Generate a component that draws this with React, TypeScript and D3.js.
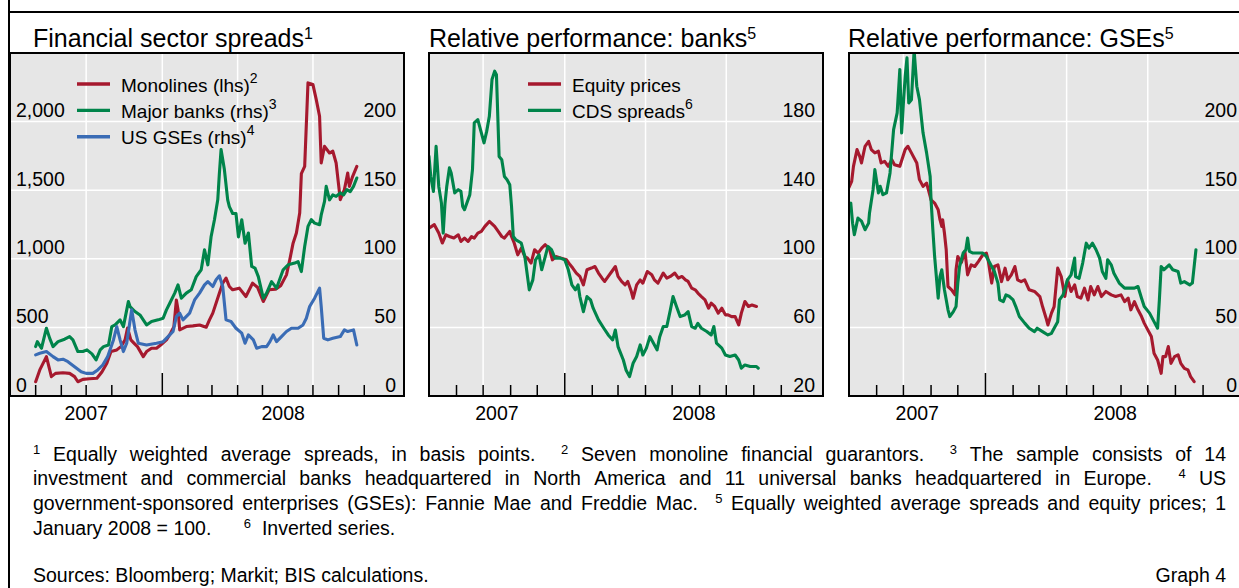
import React, { useMemo } from 'react';
import * as d3 from 'd3';

type Pt = [string, number];

// ---- Financial sector spreads (basis points) ----
const monolines: Pt[] = [
  ['2007-08-01', 104], ['2007-08-06', 190], ['2007-08-14', 287], ['2007-08-20', 141], ['2007-08-25', 165],
  ['2007-09-03', 170], ['2007-09-11', 165], ['2007-09-17', 141], ['2007-09-21', 104], ['2007-09-27', 121],
  ['2007-10-05', 126], ['2007-10-14', 129], ['2007-10-20', 175], ['2007-10-26', 238], ['2007-10-31', 324],
  ['2007-11-07', 336], ['2007-11-12', 360], ['2007-11-17', 409], ['2007-11-20', 496], ['2007-11-24', 409],
  ['2007-11-28', 384], ['2007-12-02', 360], ['2007-12-09', 287], ['2007-12-13', 324], ['2007-12-19', 348],
  ['2007-12-25', 348], ['2007-12-30', 372], ['2008-01-06', 409], ['2008-01-11', 457], ['2008-01-15', 506],
  ['2008-01-18', 700], ['2008-01-20', 628], ['2008-01-22', 482], ['2008-01-30', 506], ['2008-02-07', 511],
  ['2008-02-15', 518], ['2008-02-23', 501], ['2008-02-27', 555], ['2008-03-02', 604], ['2008-03-10', 750],
  ['2008-03-14', 822], ['2008-03-18', 859], ['2008-03-22', 798], ['2008-03-26', 774], ['2008-04-03', 786],
  ['2008-04-11', 725], ['2008-04-19', 822], ['2008-04-25', 793], ['2008-05-02', 689], ['2008-05-09', 774],
  ['2008-05-17', 779], ['2008-05-23', 803], ['2008-05-30', 883], ['2008-06-03', 993], ['2008-06-07', 1114],
  ['2008-06-11', 1188], ['2008-06-15', 1333], ['2008-06-17', 1620], ['2008-06-21', 1674], ['2008-06-25', 2282],
  ['2008-07-01', 2270], ['2008-07-05', 2160], ['2008-07-09', 2039], ['2008-07-11', 1698], ['2008-07-15', 1820],
  ['2008-07-21', 1771], ['2008-07-25', 1784], ['2008-07-29', 1698], ['2008-08-03', 1431], ['2008-08-08', 1504],
  ['2008-08-12', 1625], ['2008-08-14', 1528], ['2008-08-18', 1601], ['2008-08-23', 1674],
];

const majorBanks: Pt[] = [
  ['2007-08-01', 36], ['2007-08-03', 39.6], ['2007-08-08', 34.8], ['2007-08-14', 49.4], ['2007-08-18', 42],
  ['2007-08-22', 36], ['2007-08-28', 39.6], ['2007-09-05', 41.4], ['2007-09-11', 43.3], ['2007-09-15', 40.9],
  ['2007-09-21', 32.4], ['2007-09-27', 32.4], ['2007-10-02', 33.6], ['2007-10-08', 30.7], ['2007-10-13', 26.3],
  ['2007-10-18', 33.6], ['2007-10-22', 36], ['2007-10-28', 37.2], ['2007-11-01', 50.6], ['2007-11-05', 51.8],
  ['2007-11-11', 55.5], ['2007-11-15', 50.6], ['2007-11-21', 68.8], ['2007-11-23', 65.2], ['2007-11-29', 61.6],
  ['2007-12-05', 59.1], ['2007-12-13', 51.8], ['2007-12-19', 54.3], ['2007-12-27', 55.5], ['2008-01-02', 56.7],
  ['2008-01-06', 62.8], ['2008-01-10', 67.6], ['2008-01-16', 75], ['2008-01-20', 81], ['2008-01-24', 71.3],
  ['2008-01-30', 75], ['2008-02-05', 77.4], ['2008-02-11', 87], ['2008-02-17', 92], ['2008-02-21', 106.6],
  ['2008-02-25', 95.6], ['2008-02-29', 116.3], ['2008-03-04', 128.5], ['2008-03-08', 143], ['2008-03-10', 162.6],
  ['2008-03-12', 179.6], ['2008-03-16', 165], ['2008-03-20', 143], ['2008-03-22', 138], ['2008-03-26', 133],
  ['2008-03-30', 133], ['2008-04-02', 116], ['2008-04-06', 128.5], ['2008-04-10', 111.4], ['2008-04-14', 118.8],
  ['2008-04-18', 94.4], ['2008-04-22', 93.2], ['2008-04-26', 87], ['2008-05-02', 71.3], ['2008-05-06', 75],
  ['2008-05-12', 83.4], ['2008-05-18', 78.6], ['2008-05-26', 92], ['2008-06-01', 95.6], ['2008-06-09', 96.9],
  ['2008-06-13', 98], ['2008-06-17', 90.7], ['2008-06-21', 109], ['2008-06-25', 123.6], ['2008-06-29', 128.5],
  ['2008-07-03', 126], ['2008-07-09', 124.8], ['2008-07-11', 132], ['2008-07-15', 141.8], ['2008-07-17', 152.8],
  ['2008-07-21', 143], ['2008-07-25', 146.6], ['2008-07-29', 145.5], ['2008-08-03', 148], ['2008-08-07', 146.6],
  ['2008-08-11', 150.4], ['2008-08-15', 149], ['2008-08-19', 152.8], ['2008-08-23', 158.9],
];

const usGses: Pt[] = [
  ['2007-08-01', 30], ['2007-08-06', 31.2], ['2007-08-14', 32.4], ['2007-08-22', 28.7], ['2007-08-28', 26.3],
  ['2007-09-03', 26.8], ['2007-09-09', 25], ['2007-09-17', 21.4], ['2007-09-25', 17.7], ['2007-10-01', 16.5],
  ['2007-10-09', 16.5], ['2007-10-15', 19], ['2007-10-21', 22.6], ['2007-10-27', 28.7], ['2007-11-03', 40.9],
  ['2007-11-07', 50.6], ['2007-11-11', 40.9], ['2007-11-15', 32.4], ['2007-11-19', 38.5], ['2007-11-25', 62.8],
  ['2007-11-29', 48.2], ['2007-12-03', 38.5], ['2007-12-13', 37.2], ['2007-12-25', 38.5], ['2008-01-02', 39.6],
  ['2008-01-08', 43.3], ['2008-01-14', 47], ['2008-01-18', 57.9], ['2008-01-22', 60.4], ['2008-01-26', 55.5],
  ['2008-02-03', 60.4], ['2008-02-09', 70], ['2008-02-15', 75], ['2008-02-21', 81], ['2008-02-25', 83.4],
  ['2008-03-02', 79.8], ['2008-03-06', 84.7], ['2008-03-10', 87.6], ['2008-03-14', 79.8], ['2008-03-18', 55.5],
  ['2008-03-24', 54.3], ['2008-03-30', 49.4], ['2008-04-06', 45.8], ['2008-04-10', 38.5], ['2008-04-14', 44.5],
  ['2008-04-20', 40.9], ['2008-04-24', 34.8], ['2008-04-30', 36], ['2008-05-06', 36], ['2008-05-10', 39.6],
  ['2008-05-14', 44.5], ['2008-05-18', 39.6], ['2008-05-24', 43.3], ['2008-05-30', 47], ['2008-06-05', 49.4],
  ['2008-06-13', 49.4], ['2008-06-19', 51.8], ['2008-06-23', 56.7], ['2008-06-27', 65.2], ['2008-07-03', 71.3],
  ['2008-07-09', 78.6], ['2008-07-11', 65.2], ['2008-07-14', 42.1], ['2008-07-19', 40.9], ['2008-07-25', 42.1],
  ['2008-08-03', 43.3], ['2008-08-08', 48.2], ['2008-08-12', 47], ['2008-08-19', 48.2], ['2008-08-23', 37.2],
];

// ---- Relative performance: banks (1 January 2008 = 100) ----
const bankEquity: Pt[] = [
  ['2007-08-01', 117.9], ['2007-08-07', 119.9], ['2007-08-12', 115], ['2007-08-16', 109.2], ['2007-08-20', 114],
  ['2007-08-24', 113], ['2007-08-29', 112.1], ['2007-09-03', 114], ['2007-09-06', 110.1], ['2007-09-10', 112.1],
  ['2007-09-14', 110.1], ['2007-09-18', 113], ['2007-09-21', 112.1], ['2007-09-25', 115], ['2007-09-29', 116],
  ['2007-10-03', 118.9], ['2007-10-08', 121.8], ['2007-10-14', 118.9], ['2007-10-18', 116], ['2007-10-22', 113],
  ['2007-10-25', 112.1], ['2007-10-31', 116], ['2007-11-02', 113], ['2007-11-05', 109.2], ['2007-11-09', 102.3],
  ['2007-11-13', 106.2], ['2007-11-17', 101.3], ['2007-11-20', 100.4], ['2007-11-24', 97.5], ['2007-11-28', 105.3],
  ['2007-12-02', 103.3], ['2007-12-06', 106.2], ['2007-12-10', 108.2], ['2007-12-15', 105.3], ['2007-12-18', 99.4],
  ['2007-12-22', 101.3], ['2007-12-28', 100.4], ['2008-01-03', 99.4], ['2008-01-07', 96.5], ['2008-01-10', 94.6],
  ['2008-01-14', 91.7], ['2008-01-18', 89.7], ['2008-01-22', 84.8], ['2008-01-26', 93.6], ['2008-01-31', 94.6],
  ['2008-02-04', 95.5], ['2008-02-08', 91.7], ['2008-02-12', 88.7], ['2008-02-15', 86.8], ['2008-02-19', 89.7],
  ['2008-02-23', 92.6], ['2008-02-27', 95.5], ['2008-03-01', 89.7], ['2008-03-05', 86.8], ['2008-03-09', 84.8],
  ['2008-03-12', 86.8], ['2008-03-16', 80.9], ['2008-03-18', 77], ['2008-03-22', 84.8], ['2008-03-26', 87.7],
  ['2008-03-29', 85.8], ['2008-04-03', 92.6], ['2008-04-08', 90.7], ['2008-04-11', 87.7], ['2008-04-15', 85.8],
  ['2008-04-21', 91.7], ['2008-04-25', 88.7], ['2008-04-29', 89.7], ['2008-05-04', 91.7], ['2008-05-08', 88.7],
  ['2008-05-12', 89.7], ['2008-05-16', 87.7], ['2008-05-19', 86.8], ['2008-05-23', 82.9], ['2008-05-27', 81.9],
  ['2008-05-30', 80], ['2008-06-03', 78], ['2008-06-07', 76.1], ['2008-06-11', 71.2], ['2008-06-14', 74.1],
  ['2008-06-18', 72.2], ['2008-06-22', 68.3], ['2008-06-26', 71.2], ['2008-06-30', 67.3], ['2008-07-03', 67.3],
  ['2008-07-07', 66.3], ['2008-07-11', 66.3], ['2008-07-15', 61.5], ['2008-07-18', 68.3], ['2008-07-22', 75.1],
  ['2008-07-26', 72.2], ['2008-07-30', 73.1], ['2008-08-04', 72.2],
];

const bankCds: Pt[] = [
  ['2007-08-01', 159.7], ['2007-08-03', 148], ['2007-08-06', 139.3], ['2007-08-09', 165.6], ['2007-08-12', 142.2],
  ['2007-08-15', 132.5], ['2007-08-17', 115], ['2007-08-19', 132], ['2007-08-21', 142.2], ['2007-08-24', 153],
  ['2007-08-26', 150], ['2007-08-30', 138.4], ['2007-09-03', 140.3], ['2007-09-06', 139.3], ['2007-09-08', 130.5],
  ['2007-09-10', 128.6], ['2007-09-16', 137.4], ['2007-09-19', 152], ['2007-09-21', 179.2], ['2007-09-25', 181.2],
  ['2007-09-29', 173.4], ['2007-10-02', 167.6], ['2007-10-05', 174.3], ['2007-10-08', 183.1], ['2007-10-11', 204.5],
  ['2007-10-14', 209.4], ['2007-10-16', 207.4], ['2007-10-19', 159.7], ['2007-10-22', 157.8], ['2007-10-25', 148],
  ['2007-10-28', 146.1], ['2007-10-31', 143.2], ['2007-11-02', 130.5], ['2007-11-04', 113], ['2007-11-07', 111],
  ['2007-11-13', 109.2], ['2007-11-17', 101.3], ['2007-11-22', 81.9], ['2007-11-26', 87.7], ['2007-11-29', 99.4],
  ['2007-12-03', 102.3], ['2007-12-06', 93.6], ['2007-12-10', 101.3], ['2007-12-13', 107.2], ['2007-12-17', 105.3],
  ['2007-12-21', 100.4], ['2007-12-27', 100.4], ['2008-01-01', 99.4], ['2008-01-05', 93.6], ['2008-01-09', 84.8],
  ['2008-01-13', 81.9], ['2008-01-16', 84.8], ['2008-01-18', 78], ['2008-01-22', 69.2], ['2008-01-26', 78],
  ['2008-01-30', 76.1], ['2008-02-02', 71.2], ['2008-02-08', 64.4], ['2008-02-14', 59.5], ['2008-02-19', 55.6],
  ['2008-02-24', 52.7], ['2008-02-27', 58.5], ['2008-03-01', 48.8], ['2008-03-07', 41], ['2008-03-10', 35.2],
  ['2008-03-14', 31.3], ['2008-03-18', 39.1], ['2008-03-22', 43], ['2008-03-26', 49.8], ['2008-03-29', 43.9],
  ['2008-04-02', 47.9], ['2008-04-06', 54.6], ['2008-04-10', 50.8], ['2008-04-14', 46.9], ['2008-04-17', 54.6],
  ['2008-04-21', 60.5], ['2008-04-25', 60.5], ['2008-04-29', 70.2], ['2008-05-02', 78], ['2008-05-06', 72.1],
  ['2008-05-10', 66.3], ['2008-05-15', 67.2], ['2008-05-19', 69.2], ['2008-05-23', 60.5], ['2008-05-27', 59.5],
  ['2008-05-30', 62.4], ['2008-06-03', 59.5], ['2008-06-09', 57.6], ['2008-06-14', 55.6], ['2008-06-17', 60.5],
  ['2008-06-20', 50.8], ['2008-06-26', 47.9], ['2008-06-30', 43.9], ['2008-07-05', 43], ['2008-07-11', 43.9],
  ['2008-07-15', 41], ['2008-07-18', 36.2], ['2008-07-22', 38.1], ['2008-07-28', 37.2], ['2008-08-04', 37.2],
  ['2008-08-06', 36.2],
];

// ---- Relative performance: GSEs (1 January 2008 = 100) ----
const gseEquity: Pt[] = [
  ['2007-08-01', 152], ['2007-08-04', 156.4], ['2007-08-06', 167.4], ['2007-08-10', 179.6], ['2007-08-13', 174.7],
  ['2007-08-15', 169.9], ['2007-08-19', 182], ['2007-08-23', 185.6], ['2007-08-26', 179.6], ['2007-08-30', 177.2],
  ['2007-09-03', 178.4], ['2007-09-06', 169.9], ['2007-09-10', 171], ['2007-09-14', 167.4], ['2007-09-18', 172.3],
  ['2007-09-21', 168.6], ['2007-09-27', 167.4], ['2007-10-03', 179.6], ['2007-10-06', 182], ['2007-10-10', 177.2],
  ['2007-10-16', 169.9], ['2007-10-19', 157.7], ['2007-10-23', 152.8], ['2007-10-27', 155.2], ['2007-10-31', 145.5],
  ['2007-11-01', 143], ['2007-11-05', 140.6], ['2007-11-09', 135.8], ['2007-11-11', 128.5], ['2007-11-13', 123.6],
  ['2007-11-14', 128.5], ['2007-11-16', 118.8], ['2007-11-18', 106.6], ['2007-11-20', 79.8], ['2007-11-24', 77.4],
  ['2007-11-28', 73.7], ['2007-11-29', 92], ['2007-12-01', 101.7], ['2007-12-05', 97.3], ['2007-12-09', 105.3],
  ['2007-12-12', 88.3], ['2007-12-16', 95.6], ['2007-12-20', 94.4], ['2007-12-24', 98], ['2007-12-29', 102.9],
  ['2008-01-02', 104.2], ['2008-01-04', 99.2], ['2008-01-08', 82.3], ['2008-01-11', 94.4], ['2008-01-15', 95.6],
  ['2008-01-19', 83.4], ['2008-01-23', 93.2], ['2008-01-26', 84.7], ['2008-01-30', 88.3], ['2008-02-03', 94.4],
  ['2008-02-06', 84.7], ['2008-02-10', 83.4], ['2008-02-14', 84.7], ['2008-02-19', 77.4], ['2008-02-25', 76.2],
  ['2008-03-02', 72.5], ['2008-03-05', 65.2], ['2008-03-09', 56.7], ['2008-03-11', 51.8], ['2008-03-15', 60.4],
  ['2008-03-18', 65.2], ['2008-03-22', 93.2], ['2008-03-26', 87], ['2008-03-30', 72.5], ['2008-04-02', 84.7],
  ['2008-04-06', 76.2], ['2008-04-10', 81], ['2008-04-13', 72.5], ['2008-04-17', 71.3], ['2008-04-21', 78.6],
  ['2008-04-25', 70], ['2008-04-28', 79.8], ['2008-05-02', 73.7], ['2008-05-06', 79.8], ['2008-05-10', 72.5],
  ['2008-05-15', 76.2], ['2008-05-21', 73.7], ['2008-05-26', 72.5], ['2008-06-01', 73.7], ['2008-06-05', 68.8],
  ['2008-06-09', 71.3], ['2008-06-12', 62.8], ['2008-06-16', 68.8], ['2008-06-20', 62.8], ['2008-06-24', 57.9],
  ['2008-06-27', 53.1], ['2008-07-01', 48.2], ['2008-07-05', 43.3], ['2008-07-08', 31.2], ['2008-07-12', 26.3],
  ['2008-07-16', 16.5], ['2008-07-18', 28.7], ['2008-07-21', 28.7], ['2008-07-24', 36], ['2008-07-27', 23.8],
  ['2008-07-31', 28.7], ['2008-08-04', 30], ['2008-08-07', 23.8], ['2008-08-11', 20.2], ['2008-08-15', 19],
  ['2008-08-18', 14.1], ['2008-08-22', 10.4],
];

const gseCds: Pt[] = [
  ['2007-08-01', 139.4], ['2007-08-03', 140.6], ['2007-08-05', 126], ['2007-08-07', 117.5], ['2007-08-11', 129.7],
  ['2007-08-15', 127.4], ['2007-08-19', 121.2], ['2007-08-23', 126], ['2007-08-24', 133.4], ['2007-08-26', 142],
  ['2007-08-28', 150.4], ['2007-08-30', 165], ['2007-09-01', 156.4], ['2007-09-03', 148], ['2007-09-05', 152.8],
  ['2007-09-08', 146.7], ['2007-09-12', 148], ['2007-09-16', 162.6], ['2007-09-20', 194.2], ['2007-09-24', 206.4],
  ['2007-09-27', 238], ['2007-09-29', 191.8], ['2007-10-01', 213.6], ['2007-10-03', 233], ['2007-10-05', 246.5],
  ['2007-10-07', 213.6], ['2007-10-10', 216], ['2007-10-13', 252], ['2007-10-16', 225.8], ['2007-10-19', 216],
  ['2007-10-23', 191.8], ['2007-10-27', 177.2], ['2007-10-31', 160], ['2007-11-01', 143], ['2007-11-03', 121.2],
  ['2007-11-05', 101.7], ['2007-11-09', 71.3], ['2007-11-11', 87], ['2007-11-13', 92], ['2007-11-16', 77.4],
  ['2007-11-20', 62.8], ['2007-11-22', 57.9], ['2007-11-26', 61.5], ['2007-11-29', 65.2], ['2007-12-01', 82.3],
  ['2007-12-03', 94.4], ['2007-12-07', 104.2], ['2007-12-10', 106.6], ['2007-12-12', 115.1], ['2007-12-14', 105.4],
  ['2007-12-18', 104.2], ['2007-12-23', 104.2], ['2007-12-29', 104.2], ['2008-01-02', 101.7], ['2008-01-08', 94.4],
  ['2008-01-11', 90.7], ['2008-01-15', 82.3], ['2008-01-17', 70], ['2008-01-21', 68.8], ['2008-01-24', 73.7],
  ['2008-01-28', 72.5], ['2008-02-01', 70], ['2008-02-04', 65.2], ['2008-02-08', 57.9], ['2008-02-14', 53.1],
  ['2008-02-19', 49.4], ['2008-02-25', 46.9], ['2008-02-28', 49.4], ['2008-03-05', 46.9], ['2008-03-11', 44.5],
  ['2008-03-15', 45.7], ['2008-03-18', 49.4], ['2008-03-22', 54.2], ['2008-03-24', 70], ['2008-03-28', 73.7],
  ['2008-04-02', 84.7], ['2008-04-06', 88.3], ['2008-04-10', 100.5], ['2008-04-11', 87], ['2008-04-15', 85.8],
  ['2008-04-19', 96.9], ['2008-04-23', 111.4], ['2008-04-26', 107.8], ['2008-04-30', 111.4], ['2008-05-04', 106.6],
  ['2008-05-08', 100.5], ['2008-05-11', 90.7], ['2008-05-15', 85.8], ['2008-05-17', 99.3], ['2008-05-21', 95.6],
  ['2008-05-24', 89.5], ['2008-05-30', 82.3], ['2008-06-05', 78.6], ['2008-06-10', 78.6], ['2008-06-16', 78.6],
  ['2008-06-20', 79.8], ['2008-06-24', 71.3], ['2008-06-27', 65.2], ['2008-07-03', 60.4], ['2008-07-08', 54.2],
  ['2008-07-12', 49.4], ['2008-07-14', 70], ['2008-07-16', 94.4], ['2008-07-19', 92], ['2008-07-25', 95.6],
  ['2008-07-29', 92], ['2008-08-04', 90.7], ['2008-08-07', 82.3], ['2008-08-11', 83.4], ['2008-08-17', 81],
  ['2008-08-20', 82.3], ['2008-08-24', 106.6],
];

// ---- Axis ticks ----
const spreadTicksLeft = [0, 500, 1000, 1500, 2000];
const spreadTicksRight = [0, 50, 100, 150, 200];
const bankTicks = [20, 60, 100, 140, 180];
const gseTicks = [0, 50, 100, 150, 200];
const yearLabels = ['2007', '2008'];

// ---- Notes ----
const footnoteLines = [
  '^1 Equally weighted average spreads, in basis points.  ^2 Seven monoline financial guarantors.  ^3 The sample consists of 14',
  'investment and commercial banks headquartered in North America and 11 universal banks headquartered in Europe.  ^4 US',
  'government-sponsored enterprises (GSEs): Fannie Mae and Freddie Mac.  ^5 Equally weighted average spreads and equity prices; 1',
  'January 2008 = 100.      ^6  Inverted series.',
];
const sourcesText = 'Sources: Bloomberg; Markit; BIS calculations.';
const graphLabel = 'Graph 4';

// ---- Styling ----
const FONT = '"Liberation Sans", Arial, Helvetica, sans-serif';
const RED = '#a6192e';
const GREEN = '#00844a';
const BLUE = '#3a6cb5';
const PLOT_BG = '#e6e6e6';
const W = 1239;
const H = 588;
const TOP = 53;
const BOTTOM = 396;
const LAST_TICK = new Date(2008, 8, 1);

const parseDate = d3.timeParse('%Y-%m-%d');

interface SeriesCfg { data: Pt[]; color: string; side: 'left' | 'right' }
interface LegendItem { label: string; sup?: string; color: string }
interface PanelCfg {
  id: string;
  left: number;
  right: number;
  start: Date;
  end: Date;
  title: string;
  titleSup: string;
  titleX: number;
  yLeft: [number, number];
  yRight: [number, number];
  leftTicks?: number[];
  rightTicks: number[];
  series: SeriesCfg[];
  legend?: { x: number; y: number; items: LegendItem[] };
}

const panels: PanelCfg[] = [
  {
    id: 'spreads', left: 10, right: 404, start: new Date(2007, 6, 1), end: new Date(2008, 9, 19),
    title: 'Financial sector spreads', titleSup: '1', titleX: 33,
    yLeft: [0, 2500], yRight: [0, 250], leftTicks: spreadTicksLeft, rightTicks: spreadTicksRight,
    series: [
      { data: monolines, color: RED, side: 'left' },
      { data: majorBanks, color: GREEN, side: 'right' },
      { data: usGses, color: BLUE, side: 'right' },
    ],
    legend: {
      x: 77, y: 84, items: [
        { label: 'Monolines (lhs)', sup: '2', color: RED },
        { label: 'Major banks (rhs)', sup: '3', color: GREEN },
        { label: 'US GSEs (rhs)', sup: '4', color: BLUE },
      ],
    },
  },
  {
    id: 'banks', left: 429, right: 823, start: new Date(2007, 7, 1), end: new Date(2008, 9, 18),
    title: 'Relative performance: banks', titleSup: '5', titleX: 429,
    yLeft: [20, 220], yRight: [20, 220], rightTicks: bankTicks,
    series: [
      { data: bankEquity, color: RED, side: 'right' },
      { data: bankCds, color: GREEN, side: 'right' },
    ],
    legend: {
      x: 528, y: 84, items: [
        { label: 'Equity prices', color: RED },
        { label: 'CDS spreads', sup: '6', color: GREEN },
      ],
    },
  },
  {
    id: 'gses', left: 849, right: 1245, start: new Date(2007, 7, 1), end: new Date(2008, 9, 18),
    title: 'Relative performance: GSEs', titleSup: '5', titleX: 848,
    yLeft: [0, 250], yRight: [0, 250], rightTicks: gseTicks,
    series: [
      { data: gseEquity, color: RED, side: 'right' },
      { data: gseCds, color: GREEN, side: 'right' },
    ],
  },
];

function Panel({ cfg }: { cfg: PanelCfg }) {
  const x = d3.scaleTime().domain([cfg.start, cfg.end]).range([cfg.left, cfg.right]);
  const yL = d3.scaleLinear().domain(cfg.yLeft).range([BOTTOM, TOP]);
  const yR = d3.scaleLinear().domain(cfg.yRight).range([BOTTOM, TOP]);
  const months = d3.timeMonth.range(d3.timeDay.offset(cfg.start, 1), d3.timeDay.offset(LAST_TICK, 1));
  const quarters = months.filter((m) => m.getMonth() % 3 === 0);
  const yearStart = new Date(2008, 0, 1);
  const fmt = d3.format(',');
  const clipId = `clip-${cfg.id}`;

  const yearCenters = [
    (x(cfg.start) + x(yearStart)) / 2,
    (x(yearStart) + cfg.right) / 2,
  ];

  return (
    <g>
      <defs>
        <clipPath id={clipId}>
          <rect x={cfg.left} y={TOP} width={cfg.right - cfg.left} height={BOTTOM - TOP} />
        </clipPath>
      </defs>
      <rect x={cfg.left} y={TOP} width={cfg.right - cfg.left} height={BOTTOM - TOP} fill={PLOT_BG} />
      {quarters.map((q) => (
        <line key={`v${+q}`} x1={x(q)} x2={x(q)} y1={TOP} y2={BOTTOM} stroke="#fff" strokeWidth={1.5} />
      ))}
      {cfg.rightTicks.slice(1).map((t) => (
        <line key={`h${t}`} x1={cfg.left} x2={cfg.right} y1={yR(t)} y2={yR(t)} stroke="#fff" strokeWidth={1.5} />
      ))}
      {months.map((m) => (
        <line
          key={`t${+m}`}
          x1={x(m)} x2={x(m)}
          y1={BOTTOM} y2={BOTTOM - (m.getMonth() === 0 ? 23 : 11)}
          stroke="#000" strokeWidth={1.5}
        />
      ))}
      {cfg.leftTicks && cfg.leftTicks.map((t) => (
        <text key={`l${t}`} x={cfg.left + 6} y={yL(t) - 4.5} fontSize={19.5} fontFamily={FONT} fill="#000">
          {fmt(t)}
        </text>
      ))}
      {cfg.rightTicks.map((t) => (
        <text key={`r${t}`} x={cfg.right - 8} y={yR(t) - 4.5} fontSize={19.5} fontFamily={FONT}
          textAnchor="end" fill="#000">
          {fmt(t)}
        </text>
      ))}
      {cfg.legend && cfg.legend.items.map((it, i) => {
        const ly = cfg.legend!.y + i * 26.4;
        return (
          <g key={it.label}>
            <line x1={cfg.legend!.x} x2={cfg.legend!.x + 33} y1={ly} y2={ly} stroke={it.color} strokeWidth={3.4} />
            <text x={cfg.legend!.x + 44} y={ly + 7.5} fontSize={19} fontFamily={FONT} fill="#000">
              {it.label}
              {it.sup && <tspan fontSize={14} dy={-9}>{it.sup}</tspan>}
            </text>
          </g>
        );
      })}
      <g clipPath={`url(#${clipId})`}>
        {cfg.series.map((s, i) => {
          const y = s.side === 'left' ? yL : yR;
          const line = d3.line<Pt>()
            .x((d) => x(parseDate(d[0]) as Date))
            .y((d) => y(d[1]));
          return (
            <path key={i} d={line(s.data) || ''} fill="none" stroke={s.color} strokeWidth={3.1}
              strokeLinejoin="round" strokeLinecap="round" />
          );
        })}
      </g>
      <rect x={cfg.left} y={TOP} width={cfg.right - cfg.left} height={BOTTOM - TOP}
        fill="none" stroke="#000" strokeWidth={2} />
      {yearLabels.map((yl, i) => (
        <text key={yl} x={yearCenters[i]} y={420} fontSize={19.5} fontFamily={FONT} textAnchor="middle" fill="#000">
          {yl}
        </text>
      ))}
      <text x={cfg.titleX} y={47} fontSize={25} fontFamily={FONT} fill="#000">
        {cfg.title}
        <tspan fontSize={16} dy={-8}>{cfg.titleSup}</tspan>
      </text>
    </g>
  );
}

const FOOT_SIZE = 19.5;
const SUP_SIZE = 13;
const FOOT_X0 = 33;
const FOOT_X1 = 1226;
const FOOT_BASE = [461, 485, 510, 535];

function Footnotes() {
  const measure = useMemo(() => {
    const ctx = document.createElement('canvas').getContext('2d')!;
    return (s: string, size: number) => {
      ctx.font = `${size}px ${FONT}`;
      return ctx.measureText(s).width;
    };
  }, []);

  const spaceW = measure(' ', FOOT_SIZE);
  const out: React.ReactNode[] = [];
  footnoteLines.forEach((line, li) => {
    const tokens = line.split(' ');
    const widths = tokens.map((t) => (t.startsWith('^') ? measure(t.slice(1), SUP_SIZE) : measure(t, FOOT_SIZE)));
    const nSpaces = tokens.length - 1;
    const natural = widths.reduce((a, b) => a + b, 0) + nSpaces * spaceW;
    const justify = li < footnoteLines.length - 1;
    const extra = justify && nSpaces > 0 ? (FOOT_X1 - FOOT_X0 - natural) / nSpaces : 0;
    let cx = FOOT_X0;
    tokens.forEach((t, ti) => {
      if (ti > 0) cx += spaceW + extra;
      if (t.length) {
        const sup = t.startsWith('^');
        out.push(
          <text key={`${li}-${ti}`} x={cx} y={FOOT_BASE[li] - (sup ? 7 : 0)}
            fontSize={sup ? SUP_SIZE : FOOT_SIZE} fontFamily={FONT} fill="#000">
            {sup ? t.slice(1) : t}
          </text>,
        );
      }
      cx += widths[ti];
    });
  });
  return <g>{out}</g>;
}

export default function App() {
  return (
    <svg width={W} height={H} viewBox={`0 0 ${W} ${H}`}
      style={{ position: 'absolute', left: 0, top: 0, display: 'block', background: '#fff' }}>
      <rect x={0} y={0} width={W} height={H} fill="#fff" />
      <line x1={9} x2={9} y1={0} y2={H} stroke="#000" strokeWidth={2} />
      <line x1={9} x2={W} y1={12} y2={12} stroke="#000" strokeWidth={2} />
      {panels.map((p) => <Panel key={p.id} cfg={p} />)}
      <Footnotes />
      <text x={FOOT_X0} y={582} fontSize={FOOT_SIZE} fontFamily={FONT} fill="#000">{sourcesText}</text>
      <text x={FOOT_X1} y={582} fontSize={FOOT_SIZE} fontFamily={FONT} textAnchor="end" fill="#000">{graphLabel}</text>
    </svg>
  );
}
